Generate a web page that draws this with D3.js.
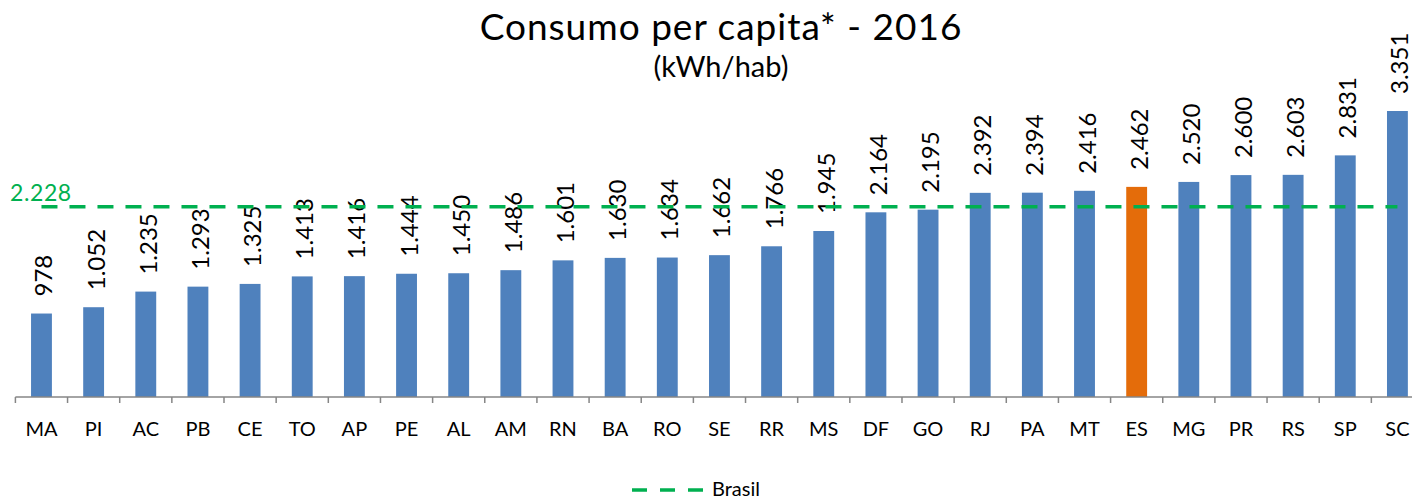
<!DOCTYPE html>
<html>
<head>
<meta charset="utf-8">
<script src="https://cdn.jsdelivr.net/npm/d3@7"></script>
<style>
  html, body { margin: 0; padding: 0; background: #fff; }
  svg { display: block; font-family: Lato, "Open Sans", sans-serif; }
</style>
</head>
<body>
<svg id="chart" width="1412" height="499"></svg>
<script>
// Per-capita electricity consumption by state, 2016 (kWh/hab)
const states = ["MA","PI","AC","PB","CE","TO","AP","PE","AL","AM","RN","BA","RO","SE","RR","MS","DF","GO","RJ","PA","MT","ES","MG","PR","RS","SP","SC"];
const consumo = [978,1052,1235,1293,1325,1413,1416,1444,1450,1486,1601,1630,1634,1662,1766,1945,2164,2195,2392,2394,2416,2462,2520,2600,2603,2831,3351];
const brasil = 2228;
const highlighted = "ES";
const titleText = "Consumo per capita* - 2016";
const subtitleText = "(kWh/hab)";
const legendLabel = "Brasil";

const BLUE = "#4F81BD", ORANGE = "#E46C0A", GREEN = "#00B050", AXIS = "#868686";

const ptBR = d3.formatLocale({ decimal: ",", thousands: ".", grouping: [3], currency: ["R$", ""] });
const fmt = ptBR.format(",d");

const svg = d3.select("#chart");

const x = d3.scaleBand().domain(states).range([15.4, 1423.5]).paddingInner(0.6).paddingOuter(0.3);
const y = d3.scaleLinear().domain([0, 3351]).range([397, 111]);

// Bars
svg.append("g").selectAll("rect")
  .data(states)
  .join("rect")
  .attr("x", d => x(d))
  .attr("width", x.bandwidth())
  .attr("y", (d, i) => y(consumo[i]))
  .attr("height", (d, i) => y(0) - y(consumo[i]))
  .attr("fill", d => d === highlighted ? ORANGE : BLUE);

// Category axis with ticks at band boundaries
const axisG = svg.append("g").attr("transform", `translate(0,${y(0)})`);
const [r0, r1] = x.range();
axisG.append("line").attr("x1", r0).attr("x2", r1).attr("y1", 0).attr("y2", 0)
  .attr("stroke", AXIS).attr("stroke-width", 1.5);
const step = x.step();
axisG.selectAll("line.tick")
  .data(d3.range(states.length + 1))
  .join("line")
  .attr("class", "tick")
  .attr("x1", i => r0 + i * step).attr("x2", i => r0 + i * step)
  .attr("y1", 0).attr("y2", 6)
  .attr("stroke", AXIS).attr("stroke-width", 1.5);
axisG.selectAll("text")
  .data(states)
  .join("text")
  .attr("x", d => x(d) + x.bandwidth() / 2)
  .attr("y", 39)
  .attr("text-anchor", "middle")
  .attr("font-size", 20)
  .attr("fill", "#000")
  .text(d => d);

// Value labels, rotated
svg.append("g").selectAll("text")
  .data(states)
  .join("text")
  .attr("transform", (d, i) => `translate(${x(d) + x.bandwidth() / 2 + 11},${y(consumo[i]) - 17}) rotate(-90)`)
  .attr("text-anchor", "start")
  .attr("font-size", 24)
  .attr("fill", "#000")
  .text((d, i) => fmt(consumo[i]));

// National average line
const line = d3.line().x(d => x(d) + x.bandwidth() / 2).y(() => y(brasil));
svg.append("path")
  .datum(states)
  .attr("d", line)
  .attr("fill", "none")
  .attr("stroke", GREEN)
  .attr("stroke-width", 3.5)
  .attr("stroke-dasharray", "16,12");
svg.append("text")
  .attr("x", 10).attr("y", 201)
  .attr("font-size", 23)
  .attr("letter-spacing", 0.6)
  .attr("fill", GREEN)
  .text(fmt(brasil));

// Title
svg.append("text")
  .attr("x", 721).attr("y", 40)
  .attr("text-anchor", "middle")
  .attr("font-size", 37)
  .attr("letter-spacing", 1)
  .attr("fill", "#000")
  .text(titleText);
svg.append("text")
  .attr("x", 721).attr("y", 77)
  .attr("text-anchor", "middle")
  .attr("font-size", 29)
  .attr("fill", "#000")
  .text(subtitleText);

// Legend
const lg = svg.append("g").attr("transform", "translate(632,490)");
lg.append("line").attr("x1", 0).attr("x2", 72).attr("y1", 0).attr("y2", 0)
  .attr("stroke", GREEN).attr("stroke-width", 3.5).attr("stroke-dasharray", "15,13");
lg.append("text").attr("x", 80).attr("y", 6).attr("font-size", 20).attr("fill", "#000").text(legendLabel);
</script>
</body>
</html>
